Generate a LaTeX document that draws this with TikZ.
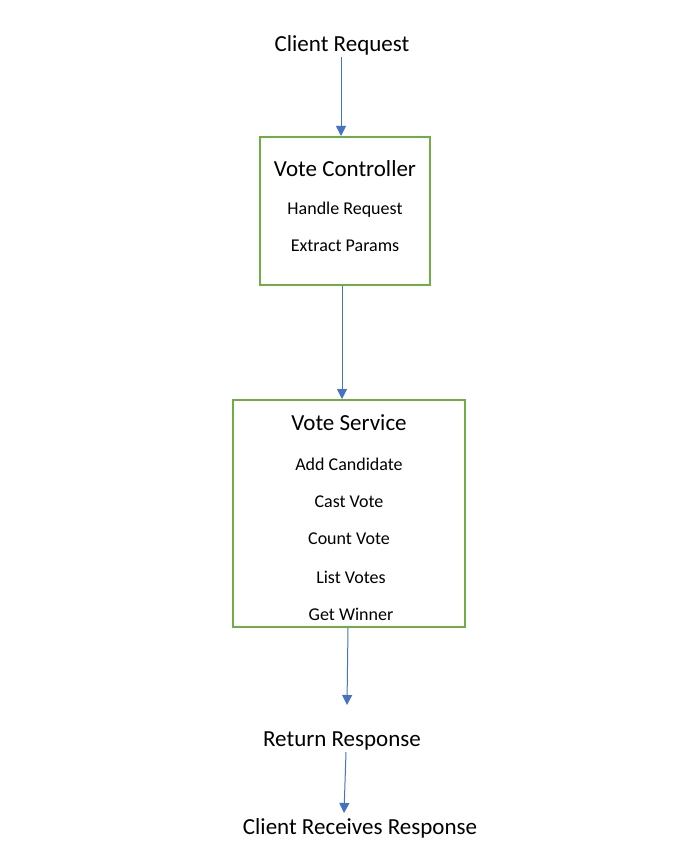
\documentclass[tikz,border=0pt]{standalone}
\usepackage{fontspec}
\setmainfont{Carlito}
\usetikzlibrary{arrows.meta,calc}
\definecolor{boxgreen}{HTML}{70AD47}
\definecolor{arrblue}{HTML}{4472C4}
\tikzset{
  big/.style={font=\fontsize{23}{26}\selectfont, inner sep=1pt, anchor=center, yshift=-1.5pt},
  small/.style={font=\fontsize{18}{20}\selectfont, inner sep=1pt, anchor=center, yshift=-1pt},
  gbox/.style={draw=boxgreen, line width=2pt, inner sep=0pt},
  arr/.style={draw=arrblue, line width=1pt, -{Triangle[width=10pt,length=10pt]}}
}
\begin{document}
\begin{tikzpicture}[x=1pt,y=-1pt]
\useasboundingbox (0,0) rectangle (685,856);
% boxes
\node[gbox, minimum width=170pt, minimum height=148pt] (vc) at (345,211) {};
\node[gbox, minimum width=232pt, minimum height=227pt] (vs) at (349,513.5) {};
% texts
\node[big] (cr) at (342,44) {Client Request};
\node[big] (vct) at (345,167) {Vote Controller};
\node[small] (hr) at (345,209) {Handle Request};
\node[small] (ep) at (345,245) {Extract Params};
\node[big] (vst) at (349,421) {Vote Service};
\node[small] (ac) at (349,463) {Add Candidate};
\node[small] (cv) at (349,501) {Cast Vote};
\node[small] (cnt) at (349,538) {Count Vote};
\node[small] (lv) at (351,576) {List Votes};
\node[small] (gw) at (351,613) {Get Winner};
\node[big] (rr) at (342,739) {Return Response};
\node[big] (crr) at (360,827) {Client Receives Response};
% connectors
\coordinate (a1s) at (341,57);
\coordinate (a2s) at (342,286);
\coordinate (a3s) at (348,628);
\coordinate (a3e) at (347,705);
\coordinate (a4s) at (346,752);
\coordinate (a4e) at (344,813);
\draw[arr] (a1s) -- (a1s |- vc.north);
\draw[arr] (a2s) -- (a2s |- vs.north);
\draw[arr] (a3s) -- (a3e);
\draw[arr] (a4s) -- (a4e);
\end{tikzpicture}
\end{document}
